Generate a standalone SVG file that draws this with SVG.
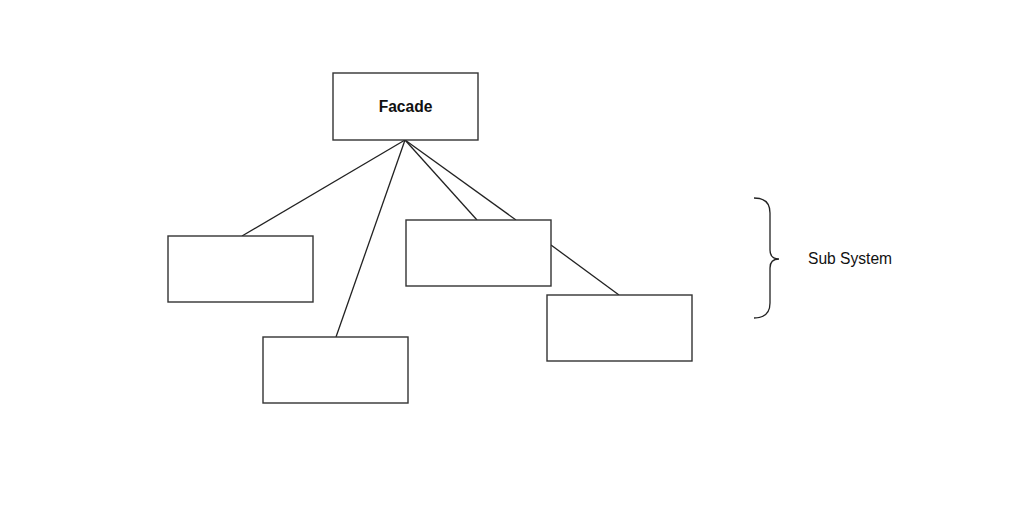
<svg xmlns="http://www.w3.org/2000/svg" width="1024" height="514" viewBox="0 0 1024 514">
<style>
.box{fill:#fff;stroke:#333;stroke-width:1.4}
.ln{stroke:#222;stroke-width:1.3;fill:none}
.t{font-family:"Liberation Sans",Arial,sans-serif;font-size:15.6px;fill:#111}
</style>
<rect width="1024" height="514" fill="#fff"/>
<g id="connectors">
<line class="ln" x1="405" y1="140" x2="242" y2="236"/>
<line class="ln" x1="405" y1="140" x2="336" y2="337"/>
<line class="ln" x1="405" y1="140" x2="477" y2="220"/>
<line class="ln" x1="405" y1="140" x2="516" y2="220"/>
<line class="ln" x1="551" y1="245" x2="619" y2="295"/>
</g>
<g id="facade">
<rect class="box" x="333" y="73" width="145" height="67"/>
<text class="t" x="405.5" y="112" text-anchor="middle" font-weight="bold">Facade</text>
</g>
<g id="sub1"><rect class="box" x="168" y="236" width="145" height="66"/></g>
<g id="sub2"><rect class="box" x="263" y="337" width="145" height="66"/></g>
<g id="sub3"><rect class="box" x="406" y="220" width="145" height="66"/></g>
<g id="sub4"><rect class="box" x="547" y="295" width="145" height="66"/></g>
<g id="subsystem">
<path class="ln" d="M754,198 Q770,198 770,213 L770,250 Q770,259 779,259 Q770,259 770,268 L770,303 Q770,318 754,318"/>
<text class="t" x="808" y="264">Sub System</text>
</g>
</svg>
